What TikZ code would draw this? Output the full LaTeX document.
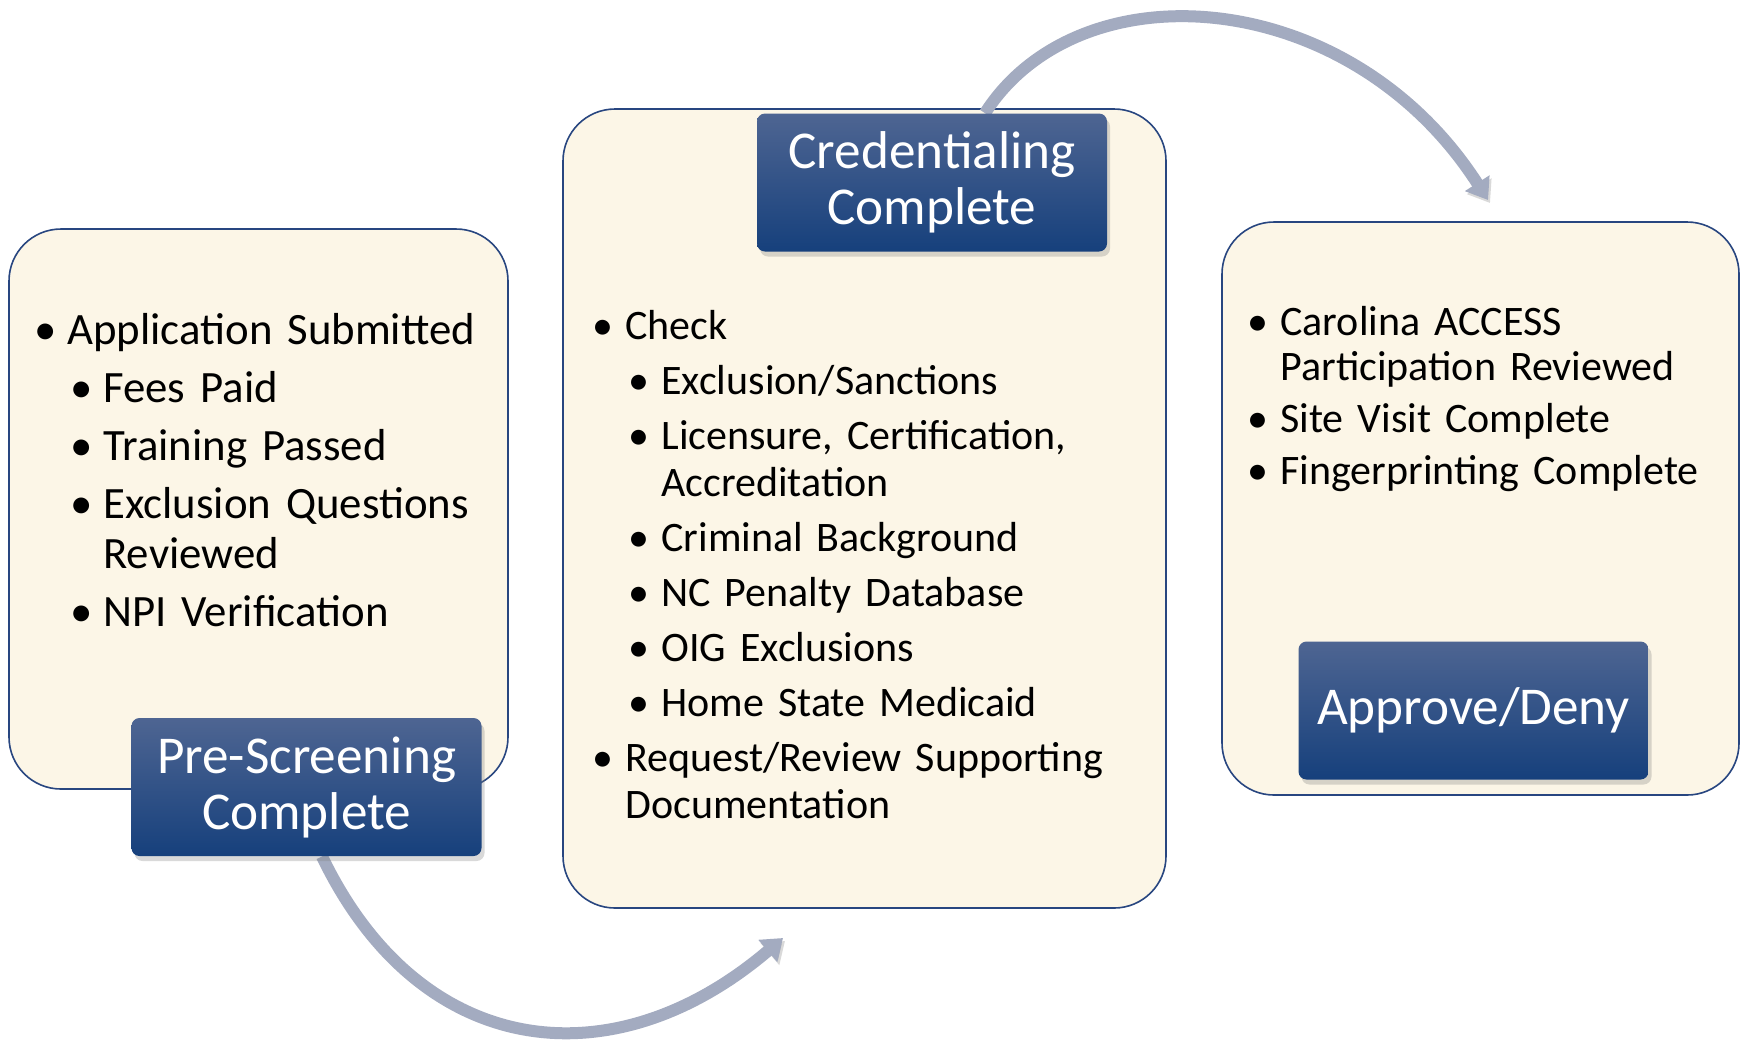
\documentclass[tikz,border=0pt]{standalone}
\usepackage{fontspec}
\setmainfont{Carlito}
\usetikzlibrary{arrows.meta,shadows}
\definecolor{panelfill}{RGB}{252,246,231}
\definecolor{panelline}{RGB}{40,70,128}
\definecolor{stagetop}{RGB}{78,101,146}
\definecolor{stagebottom}{RGB}{22,64,124}
\definecolor{arrowgray}{RGB}{163,171,192}
\newlength{\bulgap}
\newlength{\subind}
\newcommand{\itemone}[1]{\hangindent=\bulgap\hangafter=1\noindent\makebox[\bulgap][l]{\textbullet}#1\par}
\newcommand{\itemtwo}[1]{\hangindent=\dimexpr\bulgap+\subind\relax\hangafter=1\noindent\hspace*{\subind}\makebox[\bulgap][l]{\textbullet}#1\par}
\pgfdeclarelayer{background}
\pgfdeclarelayer{flow}
\pgfsetlayers{background,flow,main}
\tikzset{%
    panel/.style={draw=panelline, line width=0.8pt, fill=panelfill,
        rounded corners=26pt, inner sep=0pt},
    stage/.style={rounded corners=4pt, top color=stagetop,
        bottom color=stagebottom, text=white, align=center,
        minimum width=175pt, minimum height=69pt, inner sep=0pt,
        font=\fontsize{26.6}{28}\selectfont,
        drop shadow={shadow xshift=1.5pt, shadow yshift=-2.5pt, opacity=0.3}},
    checklist/.style={anchor=base west, inner sep=0pt, align=left},
    flowarrow/.style={draw=arrowgray, line width=6pt,
        -{Triangle[width=14pt,length=10pt]},
        preaction={draw=black, opacity=0.15,
            transform canvas={shift={(1pt,-1.5pt)}}}}
}

\begin{document}
\begin{tikzpicture}[x=0.5pt,y=-0.5pt]
    \useasboundingbox (0,0) rectangle (1744,1041);
    % the three panels
    \begin{pgfonlayer}{background}
    \node[panel, minimum width=249.5pt, minimum height=280pt] (screenpanel) at (258.5,509) {};
    \node[panel, minimum width=301.5pt, minimum height=399.5pt] (credpanel) at (864.5,508.5) {};
    \node[panel, minimum width=258.5pt, minimum height=286.5pt] (decidepanel) at (1480.5,508.5) {};
    \end{pgfonlayer}
    % lists
    \node[checklist, text width=240pt, font=\fontsize{22.4}{25}\selectfont] (screenlist) at (34,344) {%
        \setlength{\parskip}{4pt}\setlength{\bulgap}{16.5pt}\setlength{\subind}{18pt}%
        \itemone{Application Submitted}
        \itemtwo{Fees Paid}
        \itemtwo{Training Passed}
        \itemtwo{Exclusion Questions\newline Reviewed}
        \itemtwo{NPI Verification}};
    \node[checklist, text width=280pt, font=\fontsize{21}{23.5}\selectfont] (credlist) at (592,339) {%
        \setlength{\parskip}{4pt}\setlength{\bulgap}{16.5pt}\setlength{\subind}{18pt}%
        \itemone{Check}
        \itemtwo{Exclusion/Sanctions}
        \itemtwo{Licensure, Certification,\newline Accreditation}
        \itemtwo{Criminal Background}
        \itemtwo{NC Penalty Database}
        \itemtwo{OIG Exclusions}
        \itemtwo{Home State Medicaid}
        \itemone{Request/Review Supporting\newline Documentation}};
    \node[checklist, text width=240pt, font=\fontsize{21}{22.5}\selectfont] (decidelist) at (1247,335) {%
        \setlength{\parskip}{3.5pt}\setlength{\bulgap}{16.5pt}\setlength{\subind}{17pt}%
        \itemone{Carolina ACCESS\newline Participation Reviewed}
        \itemone{Site Visit Complete}
        \itemone{Fingerprinting Complete}};
    % stage labels
    \node[stage] (pre) at (306.5,787) {Pre-Screening\\Complete};
    \node[stage] (cred) at (932,182.5) {Credentialing\\Complete};
    \node[stage] (decide) at (1473.5,710.5) {Approve/Deny};
    % flow arrows
    \coordinate (tomid) at (783,938);
    \coordinate (toright) at (1488,200);
    \begin{pgfonlayer}{flow}
    \draw[flowarrow] ([xshift=7.75pt]pre.south) .. controls (420,1060) and (613,1083) .. (tomid);
    \draw[flowarrow] ([xshift=26.5pt]cred.north) .. controls (1080,-35) and (1350,-15) .. (toright);
    \end{pgfonlayer}
\end{tikzpicture}
\end{document}
